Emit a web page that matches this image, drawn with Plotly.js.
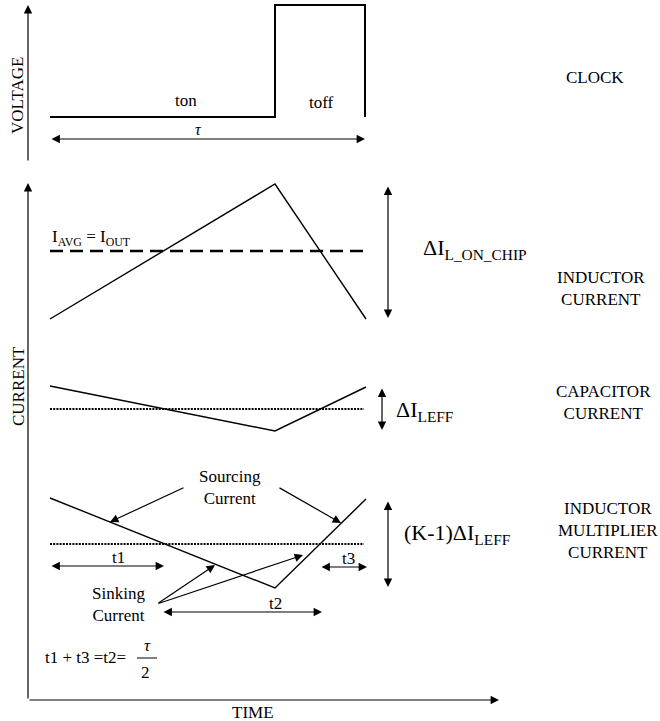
<!DOCTYPE html>
<html><head><meta charset="utf-8">
<script src="https://cdn.plot.ly/plotly-3.0.1.min.js"></script>
<style>html,body{margin:0;padding:0;background:#fff}</style>
</head><body>
<div id="chart" style="width:660px;height:721px"></div>
<script>
// Diagram coordinates (canvas units, y grows downward)
const clockX = [50, 275, 275, 365, 365];
const clockY = [117, 117, 5, 5, 117];
const waveX = [50, 275, 366];
const inductorY = [319, 184, 319];
const capacitorY = [386, 431, 387];
const multiplierY = [498, 588, 499];
const avgX = [50, 364];
const inductorAvgY = [251, 251];
const capacitorAvgY = [409, 409];
const multiplierAvgY = [544, 544];
const fracX = [137, 157];
const fracY = [658, 658];

const F = 'Liberation Serif';
const blk = '#000';

function line(x, y, w, dash) {
  return {x: x, y: y, mode: 'lines', type: 'scatter', hoverinfo: 'skip',
    line: {color: blk, width: w, dash: dash || 'solid'}, showlegend: false};
}
const traces = [
  line(clockX, clockY, 2),
  line(waveX, inductorY, 1.4),
  line(avgX, inductorAvgY, 2.6, '13px,7px'),
  line(waveX, capacitorY, 1.4),
  line(avgX, capacitorAvgY, 2, '2px,1.2px'),
  line(waveX, multiplierY, 1.4),
  line(avgX, multiplierAvgY, 2, '2px,1.2px'),
  line(fracX, fracY, 1)
];

function txt(x, y, t, size, extra) {
  return Object.assign({x: x, y: y, xref: 'x', yref: 'y', text: t, showarrow: false,
    font: {family: F, size: size, color: blk}, xanchor: 'center', yanchor: 'middle'}, extra || {});
}
function arr(hx, hy, tx, ty, both) {
  return {x: hx, y: hy, ax: tx, ay: ty, xref: 'x', yref: 'y', axref: 'x', ayref: 'y',
    text: '', showarrow: true, arrowhead: 2, arrowsize: 1.4, arrowwidth: 1.2, arrowcolor: blk,
    arrowside: both ? 'end+start' : 'end', startarrowhead: 2, startarrowsize: 1.4};
}

const ann = [
  // axes
  arr(28, 5, 28, 162),
  arr(28, 183, 28, 700),
  arr(499, 700, 28, 700),
  txt(17, 96, 'VOLTAGE', 17, {textangle: -90}),
  txt(18, 386, 'CURRENT', 17, {textangle: -90}),
  txt(253, 712, 'TIME', 17),
  // clock
  txt(186, 100, 'ton', 17),
  txt(321, 102, 'toff', 17),
  arr(365, 139, 50, 139, true),
  txt(198, 129, '<i>τ</i>', 16),
  txt(595, 77, 'CLOCK', 17),
  // inductor
  txt(50, 238, 'I<sub>AVG</sub> = I<sub>OUT</sub>', 17, {xanchor: 'left'}),
  arr(388, 318, 388, 185, true),
  txt(421, 249, 'ΔI<sub>L_ON_CHIP</sub>', 22, {xanchor: 'left'}),
  txt(601, 288, 'INDUCTOR<br>CURRENT', 17),
  // capacitor
  arr(382, 430, 382, 387, true),
  txt(394, 411, 'ΔI<sub>LEFF</sub>', 22, {xanchor: 'left'}),
  txt(603, 402, 'CAPACITOR<br>CURRENT', 17),
  // multiplier
  arr(388, 587, 388, 500, true),
  txt(402, 534, '(K-1)ΔI<sub>LEFF</sub>', 22, {xanchor: 'left'}),
  txt(608, 530, 'INDUCTOR<br>MULTIPLIER<br>CURRENT', 17),
  txt(230, 487, 'Sourcing<br>Current', 17),
  arr(110, 522, 185, 487),
  arr(341, 523, 278, 487),
  arr(164, 566, 50, 566, true),
  txt(118, 557, 't1', 17),
  arr(367, 567, 320, 567, true),
  txt(348, 558, 't3', 17),
  txt(118, 604, 'Sinking<br>Current', 17),
  arr(215, 565, 157, 604),
  arr(303, 555, 157, 604),
  arr(322, 612, 162, 612, true),
  txt(275, 603, 't2', 17),
  txt(128, 657, 't1 + t3 =t2=', 17, {xanchor: 'right'}),
  txt(147, 645, '<i>τ</i>', 17),
  txt(145, 672, '2', 17)
];

const layout = {
  width: 660, height: 721, autosize: false,
  margin: {l: 0, r: 0, t: 0, b: 0, pad: 0},
  paper_bgcolor: '#fff', plot_bgcolor: '#fff',
  xaxis: {range: [0, 660], visible: false, fixedrange: true},
  yaxis: {range: [721, 0], visible: false, fixedrange: true},
  annotations: ann, showlegend: false
};
Plotly.newPlot('chart', traces, layout, {staticPlot: true, displayModeBar: false});
</script>
</body></html>
